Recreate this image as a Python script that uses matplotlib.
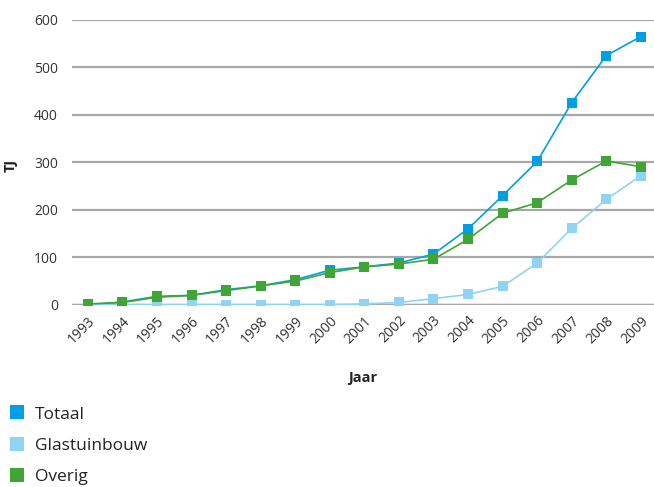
import matplotlib

matplotlib.use("Agg")
import matplotlib.pyplot as plt
from matplotlib.lines import Line2D

plt.rcParams["font.family"] = ["Open Sans", "DejaVu Sans"]

years = [str(y) for y in range(1993, 2010)]
totaal = [0, 6, 18, 20, 32, 40, 53, 73, 80, 88, 107, 160, 230, 302, 426, 525, 565]
glastuinbouw = [0, 0, 0, 0, 0, 0, 0, 0, 2, 5, 13, 22, 39, 88, 161, 222, 272]
overig = [2, 5, 16, 20, 30, 40, 50, 68, 80, 86, 96, 138, 193, 215, 263, 303, 291]

series = [
    ("Totaal", totaal, "#009fe3"),
    ("Glastuinbouw", glastuinbouw, "#8fd3f5"),
    ("Overig", overig, "#3fa535"),
]

fig = plt.figure(figsize=(6.54, 4.87), dpi=100)
ax = fig.add_axes([0.110, 0.374, 0.890, 0.585])

x = list(range(len(years)))
for name, values, color in series:
    ax.plot(x, values, color=color, lw=1.2, marker="s", ms=7.5,
            markeredgewidth=0, label=name, zorder=3)

ax.set_xlim(-0.46, len(years) - 1 + 0.38)
ax.set_ylim(0, 600)
ax.set_yticks(range(0, 601, 100))
ax.grid(axis="y", color="#a8a8a8", lw=1.6, zorder=0)
ax.axhline(0, color="#555555", lw=1.6, zorder=1)

for side in ["top", "right", "left", "bottom"]:
    ax.spines[side].set_visible(False)
ax.tick_params(axis="both", length=0, colors="#333333", labelsize=10)
ax.tick_params(axis="y", pad=10)
ax.tick_params(axis="x", pad=6)
ax.set_xticks(x)
ax.set_xticklabels(years, rotation=45, ha="right", rotation_mode="anchor")

ax.set_xlabel("Jaar", fontsize=10.5, fontweight="bold", color="#222222", labelpad=18)
ax.set_ylabel("TJ", fontsize=10.5, fontweight="bold", color="#222222")
ax.yaxis.set_label_coords(-0.093, 0.488)

handles = [Line2D([], [], ls="none", marker="s", ms=10, color=c, markeredgewidth=0)
           for _, _, c in series]
fig.legend(handles, [s[0] for s in series], loc="upper left",
           bbox_to_anchor=(0.0, 0.187), frameon=False, fontsize=12.5,
           handlelength=0.8, handletextpad=0.6, labelspacing=0.88,
           borderaxespad=0.2, labelcolor="#222222")

fig.savefig("out.png", dpi=100)
